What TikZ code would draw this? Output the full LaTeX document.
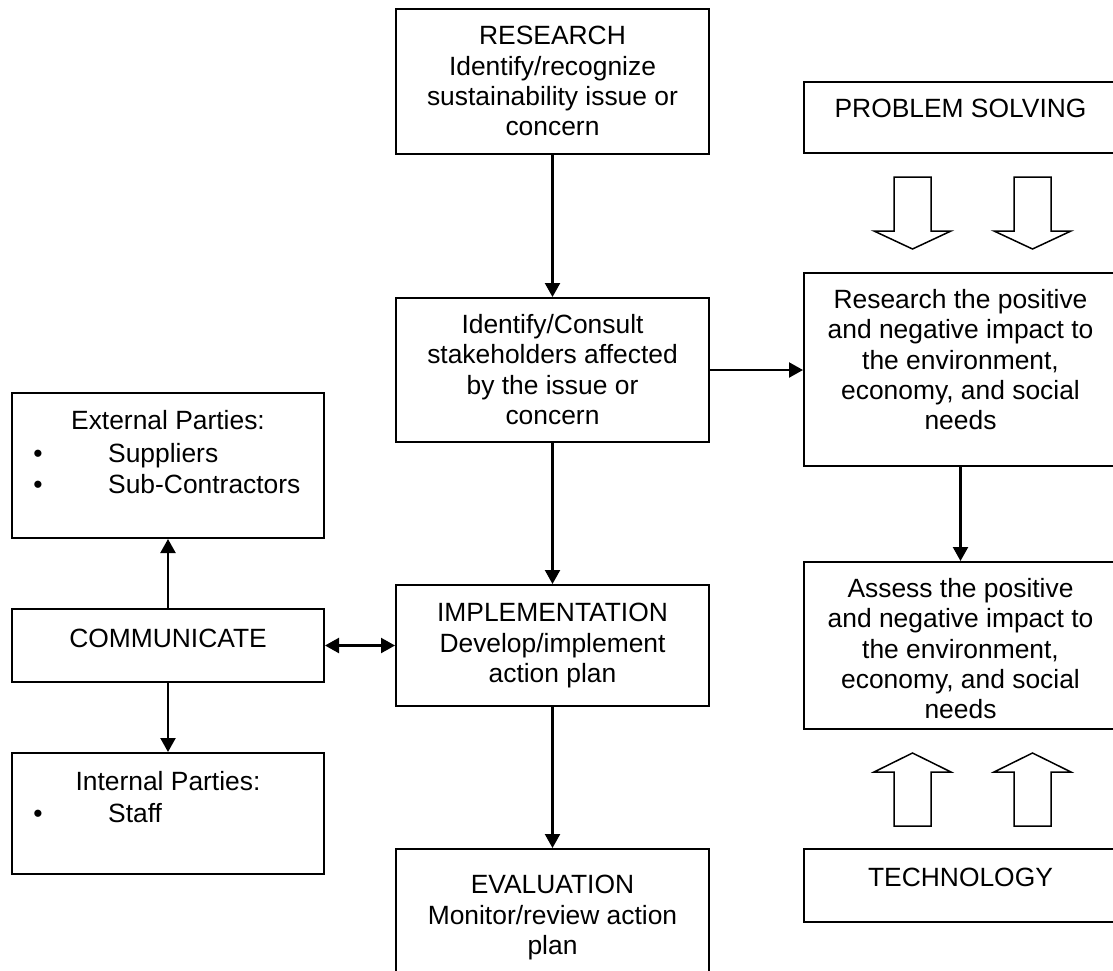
\documentclass[tikz,border=0pt]{standalone}
\usepackage{fontspec}
\setmainfont{Liberation Sans}
\usetikzlibrary{arrows.meta,calc}
\begin{document}
\begin{tikzpicture}[x=1pt,y=-1pt,
  box/.style={draw, line width=2pt, rectangle, inner sep=0pt},
  txt/.style={font=\fontsize{26.4}{30.4}\selectfont, align=center, inner sep=0pt},
  arr/.style={line width=2.2pt, -{Triangle[length=14pt,width=15pt]}},
  darr/.style={line width=2.2pt, {Triangle[length=14pt,width=15pt]}-{Triangle[length=14pt,width=15pt]}},
  blk/.style={draw, line width=1.5pt, fill=white, line join=miter}]
\useasboundingbox (0,0) rectangle (1113,970);
\clip (0,0) rectangle (1113,970);

% boxes
\node[box, minimum width=313pt, minimum height=145pt] (res) at (552.5,81.5) {};
\node[box, minimum width=313pt, minimum height=144pt] (stake) at (552.5,370) {};
\node[box, minimum width=313pt, minimum height=121pt] (impl) at (552.5,645.5) {};
\node[box, minimum width=313pt, minimum height=126pt] (eval) at (552.5,912) {};
\node[box, minimum width=313pt, minimum height=71pt] (prob) at (960.5,117.5) {};
\node[box, minimum width=313pt, minimum height=193pt] (rpos) at (960.5,369.5) {};
\node[box, minimum width=313pt, minimum height=167pt] (assess) at (960.5,645.5) {};
\node[box, minimum width=313pt, minimum height=73pt] (tech) at (960.5,885.5) {};
\node[box, minimum width=312pt, minimum height=145pt] (ext) at (168,465.5) {};
\node[box, minimum width=312pt, minimum height=73pt] (comm) at (168,645.5) {};
\node[box, minimum width=312pt, minimum height=121pt] (int) at (168,813.5) {};

% texts
\node[txt, anchor=north] (res-t) at (552.5,26) {RESEARCH\\Identify/recognize\\sustainability issue or\\concern};
\node[txt, anchor=north] (stake-t) at (552.5,314) {Identify/Consult\\stakeholders affected\\by the issue or\\concern};
\node[txt, anchor=north] (impl-t) at (552.5,603) {IMPLEMENTATION\\Develop/implement\\action plan};
\node[txt, anchor=north] (eval-t) at (552.5,875) {EVALUATION\\Monitor/review action\\plan};
\node[txt, anchor=base] (prob-t) at (960.5,117) {PROBLEM SOLVING};
\node[txt, anchor=north] (rpos-t) at (960.5,289) {Research the positive\\and negative impact to\\the environment,\\economy, and social\\needs};
\node[txt, anchor=north] (assess-t) at (960.5,578) {Assess the positive\\and negative impact to\\the environment,\\economy, and social\\needs};
\node[txt, anchor=base] (tech-t) at (960.5,886) {TECHNOLOGY};
\node[txt, anchor=base] (comm-t) at (168,647) {COMMUNICATE};
\node[txt, anchor=base] (ext-t) at (168,429) {External Parties:};
\node[txt, anchor=base] (ext-b1) at (38,462) {•};
\node[txt, anchor=base west] (ext-i1) at (108,462) {Suppliers};
\node[txt, anchor=base] (ext-b2) at (38,493) {•};
\node[txt, anchor=base west] (ext-i2) at (108,493) {Sub-Contractors};
\node[txt, anchor=base] (int-t) at (168,790) {Internal Parties:};
\node[txt, anchor=base] (int-b1) at (38,822) {•};
\node[txt, anchor=base west] (int-i1) at (108,822) {Staff};

% connectors
\draw[arr] (res.south) -- (stake.north);
\draw[arr] (stake.south) -- (impl.north);
\draw[arr] (impl.south) -- (eval.north);
\draw[arr] (stake.east) -- (stake.east -| rpos.west);
\draw[arr] (rpos.south) -- (assess.north);
\draw[arr] (comm.north) -- (ext.south);
\draw[arr] (comm.south) -- (int.north);
\draw[darr] (comm.east) -- (impl.west);

% hollow block arrows
\foreach \dx in {0,120} {
  \draw[blk] (894+\dx,177) -- (931+\dx,177) -- (931+\dx,231) -- (951+\dx,231)
    -- (912.5+\dx,249) -- (874+\dx,231) -- (894+\dx,231) -- cycle;
  \draw[blk] (894+\dx,826) -- (931+\dx,826) -- (931+\dx,772) -- (951+\dx,772)
    -- (912.5+\dx,753) -- (874+\dx,772) -- (894+\dx,772) -- cycle;
}
\end{tikzpicture}
\end{document}
